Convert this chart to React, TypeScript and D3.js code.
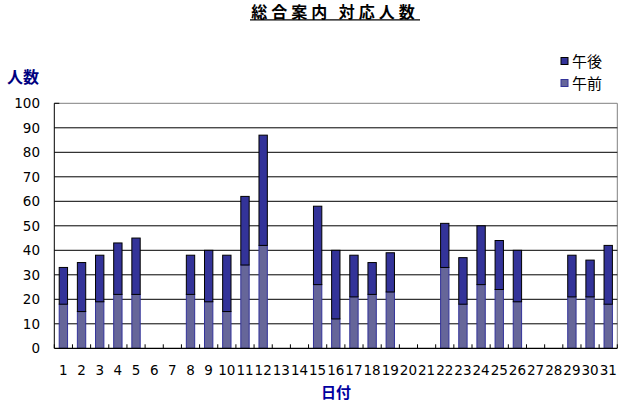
import React from "react";
import * as d3 from "d3";

const days: string[] = Array.from({ length: 31 }, (_, i) => String(i + 1));
const morning: (number | null)[] = [18, 15, 19, 22, 22, null, null, 22, 19, 15, 34, 42, null, null, 26, 12, 21, 22, 23, null, null, 33, 18, 26, 24, 19, null, null, 21, 21, 18];
const totals: (number | null)[] = [33, 35, 38, 43, 45, null, null, 38, 40, 38, 62, 87, null, null, 58, 40, 38, 35, 39, null, null, 51, 37, 50, 44, 40, null, null, 38, 36, 42];
const yTicks: number[] = [0, 10, 20, 30, 40, 50, 60, 70, 80, 90, 100];
const seriesNames = ["午後", "午前"];

const W = 632, H = 403;
const L = 54.3, R = 617.3, T = 103.3, B = 348.3;
const CJK = "'Noto Sans CJK JP', sans-serif";
const NUM = "'DejaVu Sans', sans-serif";

export default function App() {
  const x = d3.scaleBand<string>().domain(days).range([L, R]).paddingInner(0.54).paddingOuter(0.27);
  const x0 = d3.scaleBand<string>().domain(days).range([L, R]);
  const y = d3.scaleLinear().domain([0, 100]).range([B, T]);
  const bw = x.bandwidth();

  return (
    <svg width={W} height={H} style={{ position: "fixed", left: 0, top: 0, background: "#fff" }}>
      {/* title */}
      <text x={335} y={17.5} textAnchor="middle" fontFamily={CJK} fontSize={16} fontWeight="bold" letterSpacing={4} fill="#000">総合案内 対応人数</text>
      <line x1={250} x2={420} y1={19.8} y2={19.8} stroke="#000" strokeWidth={1.2} />

      {/* y axis title */}
      <text x={7} y={83} fontFamily={CJK} fontSize={16} fontWeight="bold" fill="#000080">人数</text>
      {/* x axis title */}
      <text x={336} y={398} textAnchor="middle" fontFamily={CJK} fontSize={15} fontWeight="bold" fill="#0000a0">日付</text>

      {/* legend */}
      <rect x={561} y={57.5} width={7} height={7} fill="#333399" stroke="#000" strokeWidth={1} />
      <text x={572} y={67} fontFamily={CJK} fontSize={15} fill="#000">{seriesNames[0]}</text>
      <rect x={561} y={79.5} width={7} height={7} fill="#666699" stroke="#333399" strokeWidth={1} />
      <text x={572} y={89} fontFamily={CJK} fontSize={15} fill="#000">{seriesNames[1]}</text>

      {/* plot border (top, right gray) */}
      <line x1={L} x2={R} y1={T} y2={T} stroke="#808080" strokeWidth={1} />
      <line x1={R} x2={R} y1={T} y2={B} stroke="#808080" strokeWidth={1} />

      {/* grid lines */}
      {yTicks.filter(v => v > 0 && v < 100).map(v => (
        <line key={v} x1={L} x2={R} y1={y(v)} y2={y(v)} stroke="#000" strokeWidth={1} />
      ))}
      <line x1={L} x2={L + 5} y1={T} y2={T} stroke="#000" strokeWidth={1} />

      {/* bars */}
      {days.map((d, i) => {
        const m = morning[i];
        const t = totals[i];
        if (m == null || t == null) return null;
        const xx = x(d)!;
        return (
          <g key={d}>
            <rect x={xx} y={y(m)} width={bw} height={B - y(m)} fill="#666699" stroke="#333399" strokeWidth={1} />
            <rect x={xx} y={y(t)} width={bw} height={y(m) - y(t)} fill="#333399" stroke="#000" strokeWidth={1} />
          </g>
        );
      })}

      {/* axes */}
      <line x1={L} x2={L} y1={T} y2={B} stroke="#000" strokeWidth={1} />
      <line x1={L} x2={R} y1={B} y2={B} stroke="#000" strokeWidth={1.2} />
      {days.map((d, i) => (
        <line key={"t" + d} x1={x0(d)!} x2={x0(d)!} y1={B} y2={B - 4} stroke="#000" strokeWidth={1} />
      ))}
      <line x1={R} x2={R} y1={B} y2={B - 4} stroke="#000" strokeWidth={1} />

      {/* y tick labels */}
      {yTicks.map(v => (
        <text key={"y" + v} x={40} y={y(v) + 5} textAnchor="end" fontFamily={NUM} fontSize={13.5} fill="#000">{v}</text>
      ))}
      {/* x tick labels */}
      {days.map(d => (
        <text key={"x" + d} x={x0(d)! + x0.bandwidth() / 2} y={375} textAnchor="middle" fontFamily={NUM} fontSize={13.5} fill="#000">{d}</text>
      ))}
    </svg>
  );
}
